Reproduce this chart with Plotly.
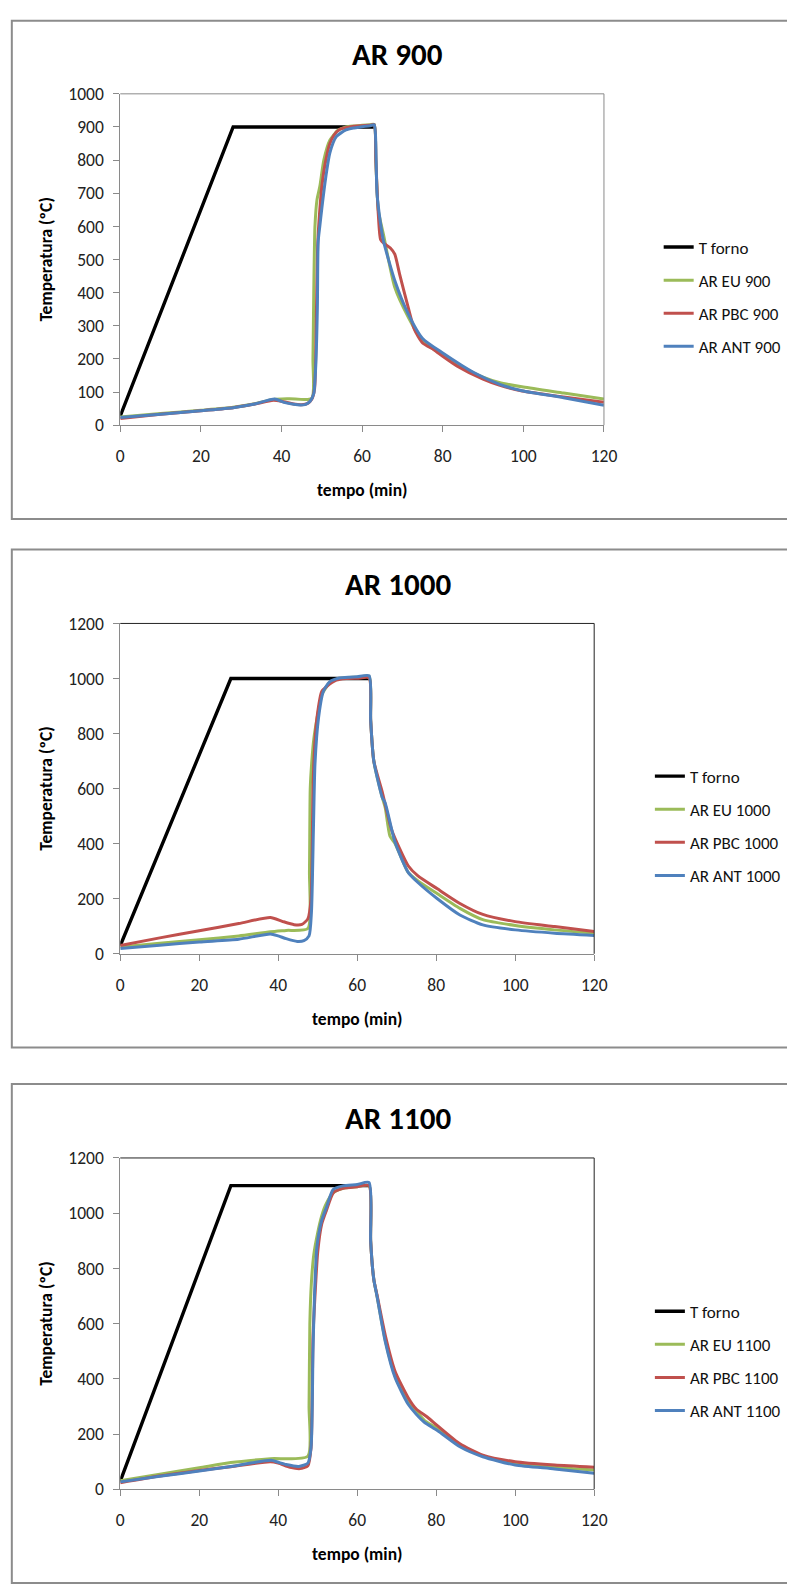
import plotly.graph_objects as go

# ---------------- data ----------------
forno_t = [0, 28, 63]
forno_900 = [28, 900, 900]
forno_1000 = [30, 1000, 1000]
forno_1100 = [30, 1100, 1100]

# AR 900
eu900_t = [0, 10, 20, 28, 33, 38, 42, 47.5, 47.8, 48.0, 48.3, 48.8, 49.5, 50.5, 52, 54, 56, 58, 60, 62, 63,
           63.4, 64, 65.3, 68.1, 71.4, 75, 80, 85, 90, 94, 100, 110, 120]
eu900_v = [25, 35, 45, 54, 64, 78, 80, 81, 200, 400, 600, 680, 720, 800, 860, 890, 900, 903, 905, 907, 908,
           800, 650, 575, 416, 327, 253, 213, 175, 145, 129, 115, 97, 79]
pbc900_t = [0, 10, 20, 28, 33, 38, 40, 43, 45, 46.5, 47.5, 48.2, 48.6, 49, 49.5, 50, 51, 52, 53, 54.5, 56, 58, 60,
            62, 63, 63.4, 64, 64.6, 65.5, 67, 68.1, 69.3, 71.4, 73, 75, 77.8, 80, 83.5, 90, 94, 99.7, 110, 120]
pbc900_v = [20, 33, 44, 53, 63, 75, 72, 64, 62, 66, 78, 110, 300, 550, 650, 720, 800, 850, 875, 893, 898, 902, 904,
            905, 907, 800, 640, 560, 548, 535, 516, 456, 357, 288, 248, 228, 208, 179, 139, 121, 103, 85, 69]
ant900_t = [0, 10, 20, 28, 33, 38.3, 40.6, 43, 44.7, 46, 47.1, 48, 48.5, 48.9, 49.1, 49.5, 50, 51, 52, 53.6, 56, 58,
            60, 62, 63, 63.3, 63.7, 64.5, 65.3, 68.1, 71.4, 75, 80, 87.7, 94, 99.7, 110, 120]
ant900_v = [23, 33, 44, 53, 63, 79, 69, 63, 61, 63, 72, 95, 180, 356, 555, 600, 654, 750, 822, 871, 891, 897,
            901, 904, 907, 880, 700, 615, 556, 437, 337, 262, 218, 159, 124, 104, 83, 60]

# AR 1000
eu1000_t = [0, 10, 20, 30, 38, 42, 47.5, 47.9, 48.1, 48.5, 49, 50, 51, 52, 53, 55, 57, 60, 63, 63.4, 64.2, 66.3,
            67.1, 68.3, 69.6, 72.9, 75.3, 80.3, 86, 91.8, 100, 110, 120]
eu1000_v = [25, 38, 51, 65, 80, 85, 92, 300, 600, 700, 780, 870, 940, 965, 985, 998, 1003, 1005, 1008, 850, 700,
            570, 530, 427, 400, 296, 266, 218, 165, 124, 103, 87, 75]
pbc1000_t = [0, 10, 20, 30, 38, 41, 44, 46, 47.5, 48.3, 48.8, 49.2, 49.8, 51, 52.2, 54.7, 57.2, 60, 63, 63.4, 64.2,
             66.3, 68.7, 72.9, 75.3, 80.3, 86, 91.8, 100, 110, 120]
pbc1000_v = [30, 58, 84, 110, 132, 118, 106, 107, 127, 200, 600, 750, 857, 952, 970, 994, 1000, 1001, 1002, 850,
             700, 590, 451, 320, 284, 236, 183, 143, 117, 99, 81]
ant1000_t = [0, 10, 20, 30, 38, 40, 42, 44.8, 46.5, 47.8, 48.4, 48.9, 49.3, 50.2, 51.4, 53, 55.5, 58, 60, 63, 63.4,
             64.2, 66.3, 67.1, 69.6, 72.9, 75.3, 80.3, 86, 91.8, 100, 110, 120]
ant1000_v = [19, 31, 43, 53, 72, 65, 55, 45, 48, 65, 150, 450, 690, 857, 952, 988, 1002, 1005, 1006, 1010, 850,
             700, 570, 547, 404, 296, 260, 200, 141, 105, 87, 75, 67]

# AR 1100
eu1100_t = [0, 10, 20, 28, 38, 47.5, 47.8, 48.0, 48.4, 49, 50, 51, 52, 54, 57, 60, 63, 63.4, 64.2, 65, 67.1, 69.6,
            72.9, 75, 77, 80.3, 86, 91.8, 100, 110, 120]
eu1100_v = [31, 55, 78, 97, 111, 120, 300, 600, 750, 850, 930, 990, 1030, 1075, 1092, 1096, 1100, 900, 760, 700,
            540, 410, 315, 282, 250, 220, 160, 121, 94, 80, 70]
pbc1100_t = [0, 10, 20, 28, 38, 40, 43, 45.5, 47.5, 48.3, 48.8, 49.3, 50, 51, 52.2, 54, 56.4, 60, 63, 63.4, 64.2,
             65, 67.1, 69.6, 72.9, 75, 77.8, 80.3, 86, 91.8, 100, 110, 120]
pbc1100_v = [24, 48, 68, 82, 100, 95, 80, 75, 85, 150, 550, 700, 860, 960, 1010, 1075, 1090, 1096, 1100, 900, 760,
             705, 558, 427, 332, 290, 261, 231, 165, 124, 100, 88, 80]
ant1100_t = [0, 10, 20, 28, 38.2, 40, 42, 45.2, 47.5, 48.3, 48.8, 49.2, 49.8, 51, 52.2, 53.9, 56.4, 60, 63, 63.4,
             64.2, 65, 67.1, 69.6, 72.9, 74.9, 77, 80.3, 86, 91.8, 100, 110, 120]
ant1100_v = [27, 47, 66, 83, 105, 98, 90, 83, 95, 150, 500, 712, 879, 974, 1021, 1086, 1099, 1104, 1111, 900,
             760, 700, 535, 404, 308, 273, 243, 213, 154, 118, 88, 74, 58]

x_ticks = [0, 20, 40, 60, 80, 100, 120]

panels = [
    dict(title="AR 900", temp="900", forno=forno_900,
         eu=(eu900_t, eu900_v), pbc=(pbc900_t, pbc900_v), ant=(ant900_t, ant900_v),
         ymax=1000, dtick=100),
    dict(title="AR 1000", temp="1000", forno=forno_1000,
         eu=(eu1000_t, eu1000_v), pbc=(pbc1000_t, pbc1000_v), ant=(ant1000_t, ant1000_v),
         ymax=1200, dtick=200),
    dict(title="AR 1100", temp="1100", forno=forno_1100,
         eu=(eu1100_t, eu1100_v), pbc=(pbc1100_t, pbc1100_v), ant=(ant1100_t, ant1100_v),
         ymax=1200, dtick=200),
]

# ---------------- layout geometry (pixels) ----------------
W, H = 787, 1596
geo = [
    dict(box=(10, 515), plot_l=119, plot_r=614, plot_t=84, plot_b=420, title_y=43.5, leg_x=670,
         xt_y=486, frame="#8a8a8a"),
    dict(box=(546, 1051), plot_l=119, plot_r=604, plot_t=621, plot_b=956, title_y=581, leg_x=661,
         xt_y=1022, frame="#222222"),
    dict(box=(1088, 1594), plot_l=119, plot_r=604, plot_t=1163, plot_b=1499, title_y=1122, leg_x=661,
         xt_y=1565, frame="#222222"),
]

FONT = "Carlito, Calibri, Lato, sans-serif"
AXIS_GRAY = "#8a8a8a"
colors = dict(forno="#000000", eu="#9BBB59", pbc="#C0504D", ant="#4F81BD")

fig = go.Figure()
shapes = []
annotations = []
layout_extra = {}

for i, (p, g) in enumerate(zip(panels, geo)):
    n = i + 1
    xa = "x" if n == 1 else f"x{n}"
    ya = "y" if n == 1 else f"y{n}"
    leg = "legend" if n == 1 else f"legend{n}"
    series = [
        ("T forno", forno_t, p["forno"], colors["forno"]),
        (f"AR EU {p['temp']}", p["eu"][0], p["eu"][1], colors["eu"]),
        (f"AR PBC {p['temp']}", p["pbc"][0], p["pbc"][1], colors["pbc"]),
        (f"AR ANT {p['temp']}", p["ant"][0], p["ant"][1], colors["ant"]),
    ]
    for k, (name, xs, ys, c) in enumerate(series):
        fig.add_trace(go.Scatter(x=xs, y=ys, mode="lines", name=name, xaxis=xa, yaxis=ya,
                                 line=dict(color=c, width=3.4 if k == 0 else 3,
                                           shape="linear" if k == 0 else "spline", smoothing=0.6),
                                 legend=leg, legendgroup=f"{n}-{k}", showlegend=True))
    xkey = "xaxis" if n == 1 else f"xaxis{n}"
    ykey = "yaxis" if n == 1 else f"yaxis{n}"
    layout_extra[xkey] = dict(
        domain=[g["plot_l"] / W, g["plot_r"] / W], anchor=ya, range=[0, 120],
        tickvals=x_ticks, ticks="outside", ticklen=6, tickcolor=AXIS_GRAY, tickwidth=1,
        showline=True, linecolor=AXIS_GRAY, linewidth=1, mirror=False, showgrid=False, zeroline=False,
        tickfont=dict(family=FONT, size=17.5, color="#222"), ticklabelstandoff=9,
    )
    layout_extra[ykey] = dict(
        domain=[1 - g["plot_b"] / H, 1 - g["plot_t"] / H], anchor=xa, range=[0, p["ymax"]],
        dtick=p["dtick"], tick0=0, ticks="outside", ticklen=6, tickcolor=AXIS_GRAY, tickwidth=1,
        showline=True, linecolor=AXIS_GRAY, linewidth=1, mirror=False, showgrid=False, zeroline=False,
        tickfont=dict(family=FONT, size=17.5, color="#222"), ticklabelstandoff=6,
    )
    # top and right edges of the plot area
    shapes.append(dict(type="line", xref=f"{xa} domain", yref=f"{ya} domain", x0=0, x1=1, y0=1, y1=1,
                       line=dict(color=g["frame"], width=1)))
    shapes.append(dict(type="line", xref=f"{xa} domain", yref=f"{ya} domain", x0=1, x1=1, y0=0, y1=1,
                       line=dict(color=g["frame"], width=1)))
    leg_center = (g["plot_t"] + g["plot_b"]) / 2 + 38
    layout_extra[leg] = dict(
        x=g["leg_x"] / W, y=1 - leg_center / H, xanchor="left", yanchor="middle",
        font=dict(family=FONT, size=17, color="#111"), tracegroupgap=8, itemwidth=30,
        bgcolor="rgba(0,0,0,0)", traceorder="grouped",
    )
    # outer panel border
    shapes.append(dict(type="rect", xref="paper", yref="paper", x0=8 / W, x1=1.02,
                       y0=1 - g["box"][1] / H, y1=1 - g["box"][0] / H,
                       line=dict(color="#8c8c8c", width=2), fillcolor="rgba(0,0,0,0)", layer="below"))
    # titles
    annotations.append(dict(text=f"<b>{p['title']}</b>", xref="paper", yref="paper", x=403 / W,
                            y=1 - g["title_y"] / H, xanchor="center", yanchor="middle", showarrow=False,
                            font=dict(family=FONT, size=31, color="#000")))
    annotations.append(dict(text="<b>tempo (min)</b>", xref="paper", yref="paper",
                            x=(g["plot_l"] + g["plot_r"]) / 2 / W, y=1 - g["xt_y"] / H,
                            xanchor="center", yanchor="middle", showarrow=False,
                            font=dict(family=FONT, size=17.5, color="#000")))
    annotations.append(dict(text="<b>Temperatura (ºC)</b>", xref="paper", yref="paper",
                            x=43 / W, y=1 - (g["plot_t"] + g["plot_b"]) / 2 / H, textangle=-90,
                            xanchor="center", yanchor="middle", showarrow=False,
                            font=dict(family=FONT, size=17.5, color="#000")))

fig.update_layout(
    width=W, height=H, margin=dict(l=0, r=0, t=0, b=0),
    paper_bgcolor="white", plot_bgcolor="white",
    shapes=shapes, annotations=annotations, **layout_extra,
)

fig.write_html("out.html")
